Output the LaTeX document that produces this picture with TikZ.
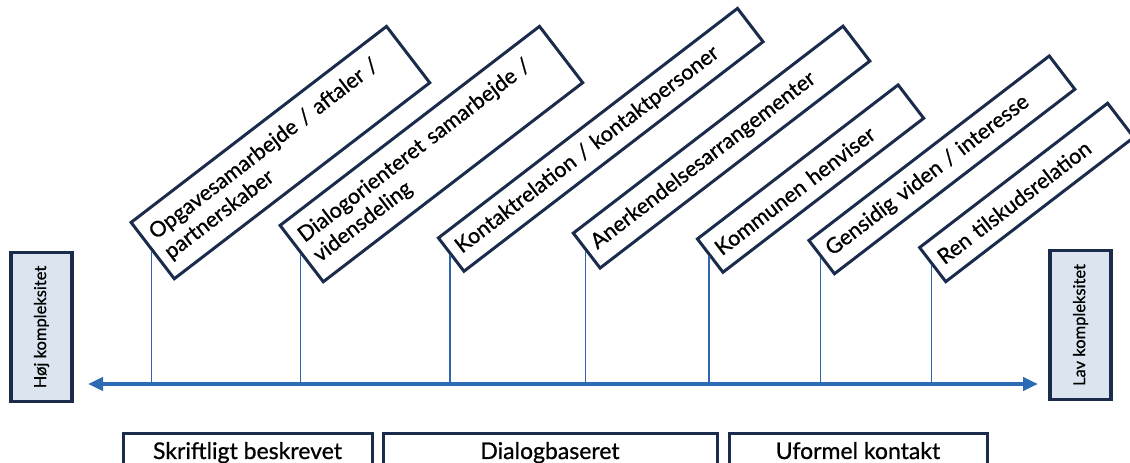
\documentclass[tikz,border=0pt]{standalone}
\usepackage{fontspec}
\setmainfont{Lato}[FakeBold=0.8]
\usetikzlibrary{arrows.meta}
\definecolor{navy}{HTML}{1B2B4B}
\definecolor{lineblue}{HTML}{2F64AE}
\definecolor{axblue}{HTML}{2C6CB5}
\definecolor{sidefill}{HTML}{DCE5EF}
\begin{document}
\begin{tikzpicture}[x=1pt,y=1pt,
  tag/.style={draw=navy, line width=3pt, fill=white, rotate=37.5, anchor=west,
    align=left, inner xsep=9pt, inner ysep=0pt,
    font=\fontsize{21.5}{25}\selectfont},
  conn/.style={draw=lineblue, line width=1.2pt},
  axisline/.style={draw=axblue, line width=3.8pt,
    {Triangle[length=15pt,width=13pt]}-{Triangle[length=15pt,width=13pt]}},
  sidebox/.style={draw=navy, line width=3.5pt, fill=sidefill,
    minimum width=61pt, minimum height=149pt, inner sep=0pt,
    font=\fontsize{16.5}{18}\selectfont},
  bottombox/.style={draw=navy, line width=3pt, fill=white, anchor=north,
    minimum height=40pt, inner sep=0pt, text height=15pt, text depth=4pt,
    font=\fontsize{23}{25}\selectfont}
]
\useasboundingbox (0,0) rectangle (1130,463);
\clip (0,0) rectangle (1130,463);

% axis
\coordinate (axL) at (88,79);
\coordinate (axR) at (1038,79);
\draw[axisline] (axL) -- (axR);

% rotated tags
\node[tag, minimum height=71pt, text width=304pt] (t1) at (151.5,211.5)
  {Opgavesamarbejde / aftaler /\\partnerskaber};
\node[tag, minimum height=71pt, text width=309pt] (t2) at (300.5,208.5)
  {Dialogorienteret samarbejde /\\vidensdeling};
\node[tag, minimum height=42pt, text width=359pt] (t3) at (450,207.5)
  {Kontaktrelation / kontaktpersoner};
\node[tag, minimum height=44pt, text width=322pt] (t4) at (585.5,211.5)
  {Anerkendelsesarrangementer};
\node[tag, minimum height=42pt, text width=235pt] (t5) at (709,206.5)
  {Kommunen henviser};
\node[tag, minimum height=42pt, text width=285pt] (t6) at (820.5,205)
  {Gensidig viden / interesse};
\node[tag, minimum height=43pt, text width=219pt] (t7) at (931.5,197.5)
  {Ren tilskudsrelation};

% connectors
\foreach \t in {t1,t2,t3,t4,t5,t6,t7}
  \draw[conn] (\t.west) -- (\t.west |- axL);

% side boxes
\node[sidebox] (hoej) at (41.5,136) {\rotatebox{90}{Høj kompleksitet}};
\node[sidebox] (lav) at (1080.5,138) {\rotatebox{90}{Lav kompleksitet}};

% bottom boxes
\node[bottombox, minimum width=249pt] (b1) at (247.5,31) {Skriftligt beskrevet};
\node[bottombox, minimum width=334pt] (b2) at (550,31) {Dialogbaseret};
\node[bottombox, minimum width=258pt] (b3) at (858,31) {Uformel kontakt};
\end{tikzpicture}
\end{document}
